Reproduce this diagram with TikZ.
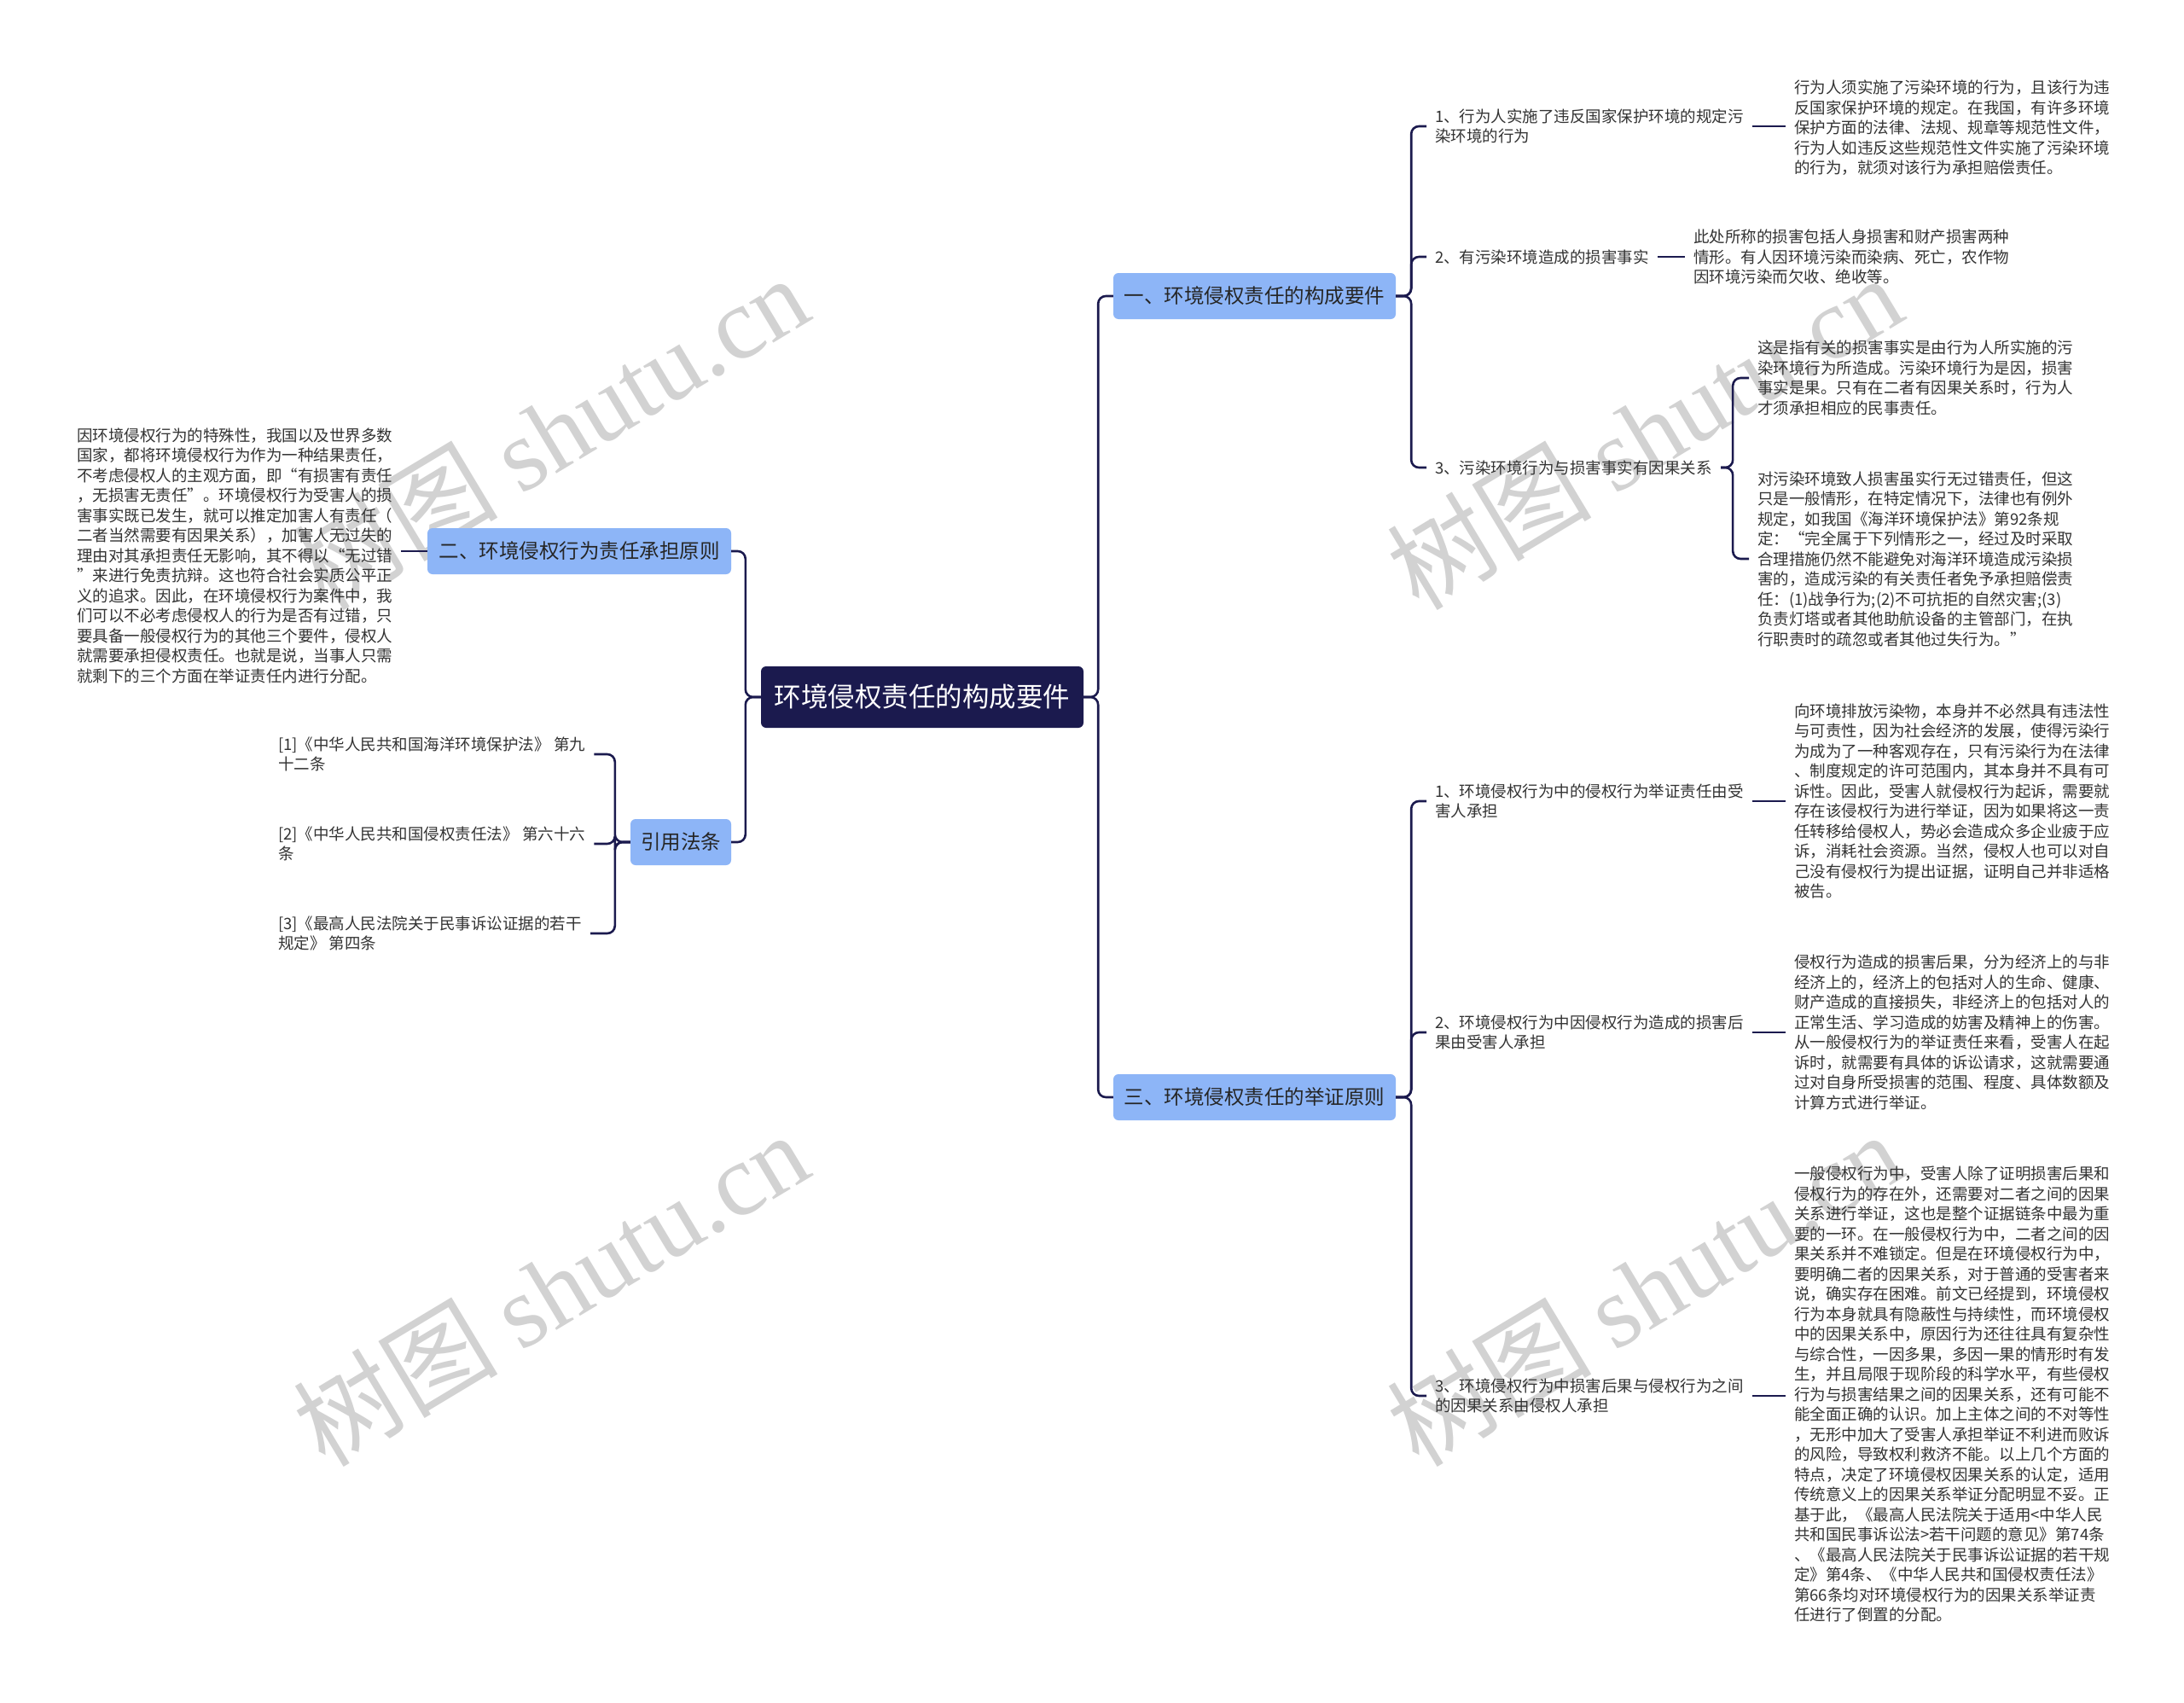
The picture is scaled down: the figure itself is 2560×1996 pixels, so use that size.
\documentclass[tikz,border=0pt]{standalone}
\usepackage{fontspec}
\setmainfont{Noto Sans CJK SC}
\newfontfamily\wmlatin{Liberation Serif}
\usetikzlibrary{calc}
\definecolor{navy}{HTML}{1B1A4E}
\definecolor{bblue}{HTML}{8DB5F7}
\definecolor{txt}{HTML}{333333}
\definecolor{wmgray}{HTML}{D2D2D2}
\begin{document}
\begin{tikzpicture}[x=1pt,y=-1pt,
  conn/.style={draw=navy,line width=2.6pt,rounded corners=9pt},
  rootbox/.style={fill=navy,text=white,rounded corners=6pt,minimum width=378pt,minimum height=72pt,inner sep=0pt,font=\fontsize{31.5}{36}\selectfont},
  bbox/.style={fill=bblue,text=black!85,rounded corners=6pt,minimum height=54pt,inner sep=0pt,font=\fontsize{23.5}{28}\selectfont},
  leaf/.style={text=txt,align=left,inner xsep=10pt,inner ysep=0pt,anchor=west,font=\fontsize{18.5}{23.5}\selectfont},
  wmark/.style={text=wmgray,rotate=31,inner sep=0pt,font=\fontsize{120}{120}\selectfont}
]
\useasboundingbox (0,0) rectangle (2560,1996);
\fill[white] (0,0) rectangle (2560,1996);

% watermarks
\node[wmark] (wm1) at (645,506) {树图 {\wmlatin shutu.cn}};
\node[wmark] (wm2) at (645,1510) {树图 {\wmlatin shutu.cn}};
\node[wmark] (wm3) at (1927,506) {树图 {\wmlatin shutu.cn}};
\node[wmark] (wm4) at (1927,1510) {树图 {\wmlatin shutu.cn}};

% root and main branches
\node[rootbox] (root) at (1081,817) {环境侵权责任的构成要件};
\node[bbox,minimum width=331pt] (b1) at (1470.5,347) {一、环境侵权责任的构成要件};
\node[bbox,minimum width=331pt] (b3) at (1470.5,1286) {三、环境侵权责任的举证原则};
\node[bbox,minimum width=356pt] (b2) at (679,646) {二、环境侵权行为责任承担原则};
\node[bbox,minimum width=118pt] (b4) at (798,987) {引用法条};

% branch 1 children
\node[leaf] (c11) at (1672,148) {1、行为人实施了违反国家保护环境的规定污\\染环境的行为};
\node[leaf] (c12) at (1672,301) {2、有污染环境造成的损害事实};
\node[leaf] (c13) at (1672,548) {3、污染环境行为与损害事实有因果关系};

\node[leaf] (l11) at (2093,150) {行为人须实施了污染环境的行为，且该行为违\\反国家保护环境的规定。在我国，有许多环境\\保护方面的法律、法规、规章等规范性文件，\\行为人如违反这些规范性文件实施了污染环境\\的行为，就须对该行为承担赔偿责任。};
\node[leaf] (l12) at (1975,301) {此处所称的损害包括人身损害和财产损害两种\\情形。有人因环境污染而染病、死亡，农作物\\因环境污染而欠收、绝收等。};
\node[leaf] (l13a) at (2050,443) {这是指有关的损害事实是由行为人所实施的污\\染环境行为所造成。污染环境行为是因，损害\\事实是果。只有在二者有因果关系时，行为人\\才须承担相应的民事责任。};
\node[leaf] (l13b) at (2050,655) {对污染环境致人损害虽实行无过错责任，但这\\只是一般情形，在特定情况下，法律也有例外\\规定，如我国《海洋环境保护法》第92条规\\定：“完全属于下列情形之一，经过及时采取\\合理措施仍然不能避免对海洋环境造成污染损\\害的，造成污染的有关责任者免予承担赔偿责\\任：(1)战争行为;(2)不可抗拒的自然灾害;(3)\\负责灯塔或者其他助航设备的主管部门，在执\\行职责时的疏忽或者其他过失行为。”};

% branch 3 children
\node[leaf] (c31) at (1672,939) {1、环境侵权行为中的侵权行为举证责任由受\\害人承担};
\node[leaf] (c32) at (1672,1210) {2、环境侵权行为中因侵权行为造成的损害后\\果由受害人承担};
\node[leaf] (c33) at (1672,1636) {3、环境侵权行为中损害后果与侵权行为之间\\的因果关系由侵权人承担};

\node[leaf] (l31) at (2093,939) {向环境排放污染物，本身并不必然具有违法性\\与可责性，因为社会经济的发展，使得污染行\\为成为了一种客观存在，只有污染行为在法律\\、制度规定的许可范围内，其本身并不具有可\\诉性。因此，受害人就侵权行为起诉，需要就\\存在该侵权行为进行举证，因为如果将这一责\\任转移给侵权人，势必会造成众多企业疲于应\\诉，消耗社会资源。当然，侵权人也可以对自\\己没有侵权行为提出证据，证明自己并非适格\\被告。};
\node[leaf] (l32) at (2093,1210) {侵权行为造成的损害后果，分为经济上的与非\\经济上的，经济上的包括对人的生命、健康、\\财产造成的直接损失，非经济上的包括对人的\\正常生活、学习造成的妨害及精神上的伤害。\\从一般侵权行为的举证责任来看，受害人在起\\诉时，就需要有具体的诉讼请求，这就需要通\\过对自身所受损害的范围、程度、具体数额及\\计算方式进行举证。};
\node[leaf] (l33) at (2093,1634) {一般侵权行为中，受害人除了证明损害后果和\\侵权行为的存在外，还需要对二者之间的因果\\关系进行举证，这也是整个证据链条中最为重\\要的一环。在一般侵权行为中，二者之间的因\\果关系并不难锁定。但是在环境侵权行为中，\\要明确二者的因果关系，对于普通的受害者来\\说，确实存在困难。前文已经提到，环境侵权\\行为本身就具有隐蔽性与持续性，而环境侵权\\中的因果关系中，原因行为还往往具有复杂性\\与综合性，一因多果，多因一果的情形时有发\\生，并且局限于现阶段的科学水平，有些侵权\\行为与损害结果之间的因果关系，还有可能不\\能全面正确的认识。加上主体之间的不对等性\\，无形中加大了受害人承担举证不利进而败诉\\的风险，导致权利救济不能。以上几个方面的\\特点，决定了环境侵权因果关系的认定，适用\\传统意义上的因果关系举证分配明显不妥。正\\基于此，《最高人民法院关于适用<中华人民\\共和国民事诉讼法>若干问题的意见》第74条\\、《最高人民法院关于民事诉讼证据的若干规\\定》第4条、《中华人民共和国侵权责任法》\\第66条均对环境侵权行为的因果关系举证责\\任进行了倒置的分配。};

% left side
\node[leaf] (lt) at (80,651) {因环境侵权行为的特殊性，我国以及世界多数\\国家，都将环境侵权行为作为一种结果责任，\\不考虑侵权人的主观方面，即“有损害有责任\\，无损害无责任”。环境侵权行为受害人的损\\害事实既已发生，就可以推定加害人有责任（\\二者当然需要有因果关系），加害人无过失的\\理由对其承担责任无影响，其不得以“无过错\\”来进行免责抗辩。这也符合社会实质公平正\\义的追求。因此，在环境侵权行为案件中，我\\们可以不必考虑侵权人的行为是否有过错，只\\要具备一般侵权行为的其他三个要件，侵权人\\就需要承担侵权责任。也就是说，当事人只需\\就剩下的三个方面在举证责任内进行分配。};
\node[leaf] (r1) at (316,884) {{[1]}《中华人民共和国海洋环境保护法》 第九\\十二条};
\node[leaf] (r2) at (316,989) {{[2]}《中华人民共和国侵权责任法》 第六十六\\条};
\node[leaf] (r3) at (316,1094) {{[3]}《最高人民法院关于民事诉讼证据的若干\\规定》 第四条};

% connectors: root
\draw[conn] (root.east) -- ++(17,0) |- (b1.west);
\draw[conn] (root.east) -- ++(17,0) |- (b3.west);
\draw[conn] (root.west) -- ++(-18,0) |- (b2.east);
\draw[conn] (root.west) -- ++(-18,0) |- (b4.east);
% branch 1
\draw[conn] (b1.east) -- ++(18,0) |- (c11.west);
\draw[conn] (b1.east) -- ++(18,0) |- (c12.west);
\draw[conn] (b1.east) -- ++(18,0) |- (c13.west);
\draw[conn] (c11.east) -- (c11.east -| l11.west);
\draw[conn] (c12.east) -- (c12.east -| l12.west);
\draw[conn] (c13.east) -- ++(14,0) |- (l13a.west);
\draw[conn] (c13.east) -- ++(14,0) |- (l13b.west);
% branch 3
\draw[conn] (b3.east) -- ++(18,0) |- (c31.west);
\draw[conn] (b3.east) -- ++(18,0) |- (c32.west);
\draw[conn] (b3.east) -- ++(18,0) |- (c33.west);
\draw[conn] (c31.east) -- (c31.east -| l31.west);
\draw[conn] (c32.east) -- (c32.east -| l32.west);
\draw[conn] (c33.east) -- (c33.east -| l33.west);
% left
\draw[conn] (b2.west) -- (b2.west -| lt.east);
\draw[conn] (b4.west) -- ++(-18,0) |- (r1.east);
\draw[conn] (b4.west) -- ++(-18,0) |- (r2.east);
\draw[conn] (b4.west) -- ++(-18,0) |- (r3.east);
\end{tikzpicture}
\end{document}
